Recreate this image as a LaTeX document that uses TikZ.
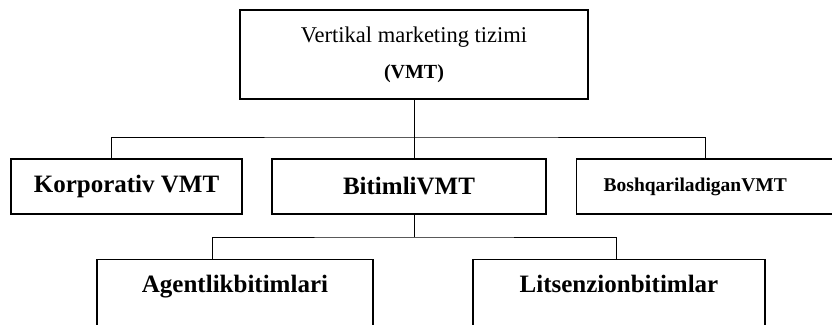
\documentclass[tikz,border=0pt]{standalone}
\usepackage{fontspec}
\setmainfont{Liberation Serif}
\usetikzlibrary{positioning}

\begin{document}
\begin{tikzpicture}[x=1pt,y=-1pt,
	box/.style={draw, line width=1.4pt, inner sep=0pt},
	link/.style={line width=1pt},
	bigb/.style={font=\fontsize{25}{30}\selectfont\bfseries}]
	\useasboundingbox (0,0) rectangle (832,324);
	% top
	\node[box, line width=1.7pt, minimum width=348pt, minimum height=89pt, align=center] (vmt) at (414,54.5)
		{\fontsize{22.5}{27}\selectfont Vertikal marketing tizimi\\[16pt]\fontsize{20}{24}\selectfont\bfseries (VMT)};
	% second row
	\node[box, bigb, minimum width=231pt, minimum height=55pt] (kor) at (126.5,186.5) {Korporativ VMT};
	\node[box, bigb, minimum width=274pt, minimum height=55pt] (bit) at (409,186.5) {BitimliVMT};
	\node[box, font=\fontsize{19.5}{24}\selectfont\bfseries, minimum height=55pt, text width=204pt, inner xsep=27pt, align=left, anchor=west] (bos) at (576,186.5) {BoshqariladiganVMT};
	% third row
	\node[box, bigb, anchor=north, minimum width=276pt, text height=33pt, text depth=50pt] (agt) at (235,259) {Agentlikbitimlari};
	\node[box, bigb, anchor=north, minimum width=292pt, text height=33pt, text depth=50pt] (lit) at (619,259) {Litsenzionbitimlar};
	% links
	\coordinate (j1) at (414,137);
	\coordinate (j2) at (414,237);
	\draw[link] (vmt.south) -- (vmt.south |- bit.north);
	\draw[link] (kor.north west) ++(101,0) |- (j1) -| ([xshift=129pt]bos.north west);
	\draw[link] (vmt.south |- bit.south) -- (j2);
	\draw[link] (agt.north west) ++(116,0) |- (j2) -| ([xshift=144pt]lit.north west);
\end{tikzpicture}
\end{document}
